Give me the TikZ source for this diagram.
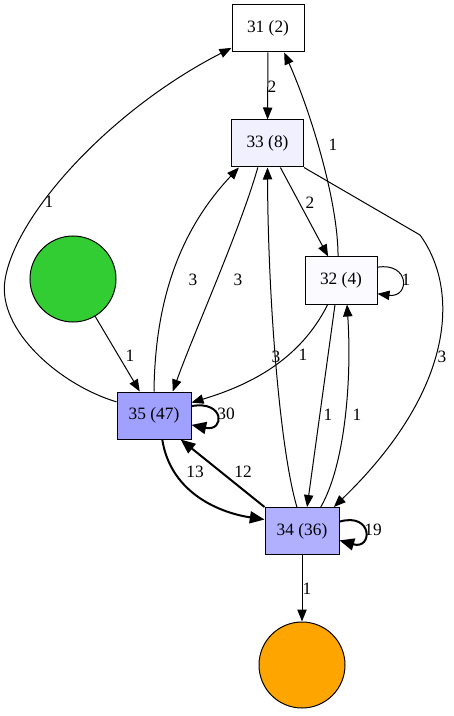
\documentclass[tikz,border=0pt]{standalone}
\usepackage{fontspec}
\setmainfont{Liberation Serif}
\usetikzlibrary{arrows.meta}

\definecolor{fillA}{RGB}{255,255,255}
\definecolor{fillB}{RGB}{240,240,255}
\definecolor{fillC}{RGB}{250,250,255}
\definecolor{fillD}{RGB}{176,176,255}
\definecolor{fillE}{RGB}{160,160,255}
\definecolor{srcgreen}{RGB}{50,205,50}
\definecolor{sinkorange}{RGB}{255,165,0}

\tikzset{every picture/.style={line width=0.75pt}}
\tikzset{
  box/.style={draw, rectangle, minimum width=54pt, minimum height=35.25pt, inner sep=0pt, font=\fontsize{13}{15}\selectfont},
  blob/.style={draw, circle, minimum size=64.5pt, inner sep=0pt},
  lbl/.style={inner sep=0pt, font=\fontsize{13}{15}\selectfont},
  flow/.style={-{Triangle[length=9pt,width=7pt]}},
  bigflow/.style={line width=1.5pt, -{Triangle[length=11pt,width=9pt]}},
}

\begin{document}
\begin{tikzpicture}[x=0.75pt,y=0.75pt,yscale=-1,xscale=1]
\useasboundingbox (0,0) rectangle (453,716);

%Nodes
\node [box, fill=fillA] (n31) at (268,28.5) {31 (2)};
\node [box, fill=fillB] (n33) at (267.5,143.5) {33 (8)};
\node [box, fill=fillC] (n32) at (341,280.5) {32 (4)};
\node [box, fill=fillE, minimum width=55.5pt] (n35) at (154,415.5) {35 (47)};
\node [box, fill=fillD, minimum width=55.5pt] (n34) at (302,531) {34 (36)};
\node [blob, fill=srcgreen] (src) at (73,279) {};
\node [blob, fill=sinkorange] (sink) at (302,665) {};
\coordinate (bend) at (420,235);

%Straight Lines
\draw [flow] (n31) -- (n33);
\draw [flow] (n33) -- (n32);
\draw [flow] (src) -- (n35);
\draw [flow] (n32.-104) -- (n34.78);
\draw [flow] (n34) -- (sink);
\draw [bigflow] (n34.north west) -- (n35.-42);

%Curve Lines
\draw [flow] (n35.160) .. controls (60,385) and (-3,330) .. (5,280) .. controls (15,215) and (110,110) .. (n31.208);
\draw [flow] (n32.97) .. controls (338,200) and (310,110) .. (n31.-56);
\draw [flow] (n33.south east) -- (bend) .. controls (460,290) and (455,390) .. (n34.37);
\draw [flow] (n35.north) .. controls (155,300) and (180,230) .. (n33.-140);
\draw [flow] (n33.-112) .. controls (240,230) and (195,330) .. (n35.52);
\draw [flow] (n34.102) .. controls (280,450) and (268,300) .. (n33.south);
\draw [flow] (n32.-119) .. controls (300,360) and (250,385) .. (n35.19);
\draw [flow] (n34.52) .. controls (345,465) and (352,380) .. (n32.-76);
\draw [bigflow] (n35.-71) .. controls (170,490) and (215,512) .. (n34.163);

%Loops
\draw [flow] (n32.20) .. controls (410,262) and (410,298) .. (n32.-20);
\draw [bigflow] (n35.14) .. controls (225,400) and (225,432) .. (n35.-14);
\draw [bigflow] (n34.14) .. controls (373,512) and (373,550) .. (n34.-14);

%Labels
\node [lbl] (l3133) at (272,87) {2};
\node [lbl] (l3531) at (49,202) {1};
\node [lbl] (l3231) at (333,145) {1};
\node [lbl] (l3332) at (310,203) {2};
\node [lbl] (l3334) at (442,357) {3};
\node [lbl] (l3533) at (193,280) {3};
\node [lbl] (l3335) at (238,280) {3};
\node [lbl] (l3433) at (276,357) {3};
\node [lbl] (l3235) at (303,355) {1};
\node [lbl] (l3234) at (328,415) {1};
\node [lbl] (l3432) at (357,415) {1};
\node [lbl] (lsrc) at (130,356) {1};
\node [lbl] (l3232) at (406,280) {1};
\node [lbl] (l3535) at (226,414) {30};
\node [lbl] (l3534) at (195,472) {13};
\node [lbl] (l3435) at (243,472) {12};
\node [lbl] (l3434) at (373,530) {19};
\node [lbl] (lsink) at (307,589) {1};

\end{tikzpicture}
\end{document}
